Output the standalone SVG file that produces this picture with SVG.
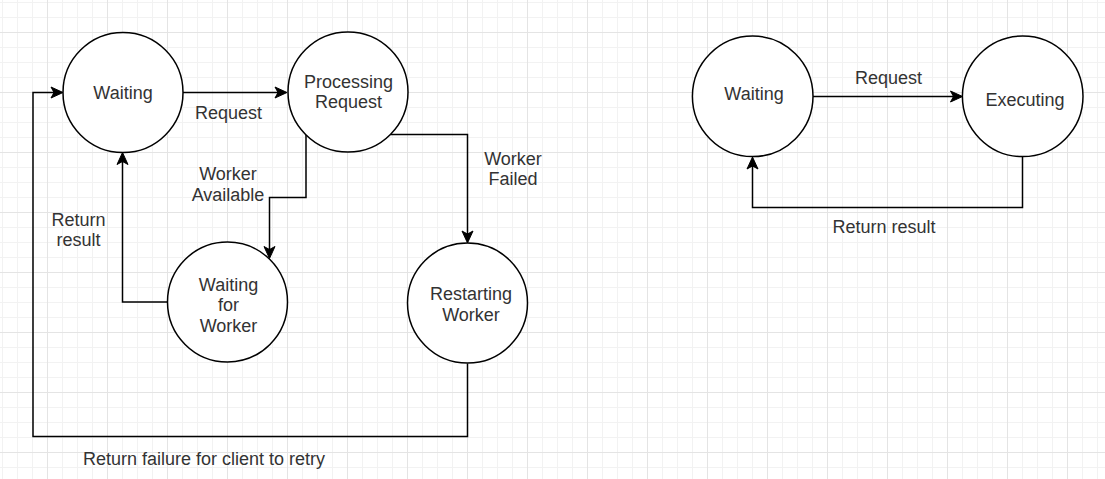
<svg xmlns="http://www.w3.org/2000/svg" width="1105" height="479" viewBox="0 0 1105 479">
<style>
.node{fill:#ffffff;stroke:#000000;stroke-width:1.5}
.edge{fill:none;stroke:#000000;stroke-width:1.5}
.t{font-family:"Liberation Sans",Arial,Helvetica,sans-serif;font-size:18px;fill:#333333;text-anchor:middle}
</style>
<defs>
<pattern id="grid" patternUnits="userSpaceOnUse" x="47" y="32" width="60" height="60">
<path d="M15.5,0V60M30.5,0V60M45.5,0V60M0,15.5H60M0,30.5H60M0,45.5H60" stroke="#f2f2f2" stroke-width="1" fill="none"/>
<path d="M0.5,0V60M0,0.5H60" stroke="#e4e4e4" stroke-width="1" fill="none"/>
</pattern>
<marker id="arr" markerUnits="userSpaceOnUse" viewBox="-12 -7 16 14" markerWidth="16" markerHeight="14" refX="0" refY="0" orient="auto">
<path d="M3,0 L-9,-5.5 L-6,0 L-9,5.5 Z" fill="#000000" stroke="#000000" stroke-width="1"/>
</marker>
</defs>
<rect width="1105" height="479" fill="#ffffff"/>
<rect width="1105" height="479" fill="url(#grid)"/>

<g id="connectors">
<path class="edge" d="M183,92.5 H284" marker-end="url(#arr)"/>
<path class="edge" d="M306,134.5 V197.5 H269.5 V255.5" marker-end="url(#arr)"/>
<path class="edge" d="M390.5,134.5 H467.5 V240" marker-end="url(#arr)"/>
<path class="edge" d="M167.5,302 H122.5 V155.5" marker-end="url(#arr)"/>
<path class="edge" d="M467.5,363.5 V436.5 H33 V92.5 H60" marker-end="url(#arr)"/>
<path class="edge" d="M813,96.5 H959.5" marker-end="url(#arr)"/>
<path class="edge" d="M1022.5,156.5 V207.5 H752.5 V160" marker-end="url(#arr)"/>
<text class="t" x="228.5" y="119">Request</text>
<text class="t" x="228"><tspan x="228" y="179.5">Worker</tspan><tspan x="228" y="200.5">Available</tspan></text>
<text class="t" x="513"><tspan x="513" y="164.5">Worker</tspan><tspan x="513" y="185">Failed</tspan></text>
<text class="t" x="78.5"><tspan x="78.5" y="225.5">Return</tspan><tspan x="78.5" y="246">result</tspan></text>
<text class="t" x="204" y="465">Return failure for client to retry</text>
<text class="t" x="888.5" y="83.5">Request</text>
<text class="t" x="884" y="233">Return result</text>
</g>

<g id="waiting-left">
<circle class="node" cx="123" cy="92.5" r="60"/>
<text class="t" x="123" y="99">Waiting</text>
</g>
<g id="processing-request">
<circle class="node" cx="348" cy="92" r="60"/>
<text class="t" x="348.5"><tspan x="348.5" y="87.5">Processing</tspan><tspan x="348.5" y="108">Request</tspan></text>
</g>
<g id="waiting-for-worker">
<circle class="node" cx="227.5" cy="302" r="60"/>
<text class="t" x="228.5"><tspan x="228.5" y="290.5">Waiting</tspan><tspan x="228.5" y="311">for</tspan><tspan x="228.5" y="331.5">Worker</tspan></text>
</g>
<g id="restarting-worker">
<circle class="node" cx="467.5" cy="303" r="60"/>
<text class="t" x="471"><tspan x="471" y="300">Restarting</tspan><tspan x="471" y="320.5">Worker</tspan></text>
</g>
<g id="waiting-right">
<circle class="node" cx="752.7" cy="96.3" r="60.3"/>
<text class="t" x="754" y="99.5">Waiting</text>
</g>
<g id="executing">
<circle class="node" cx="1022.7" cy="96.3" r="60.3"/>
<text class="t" x="1025" y="105.5">Executing</text>
</g>
</svg>
